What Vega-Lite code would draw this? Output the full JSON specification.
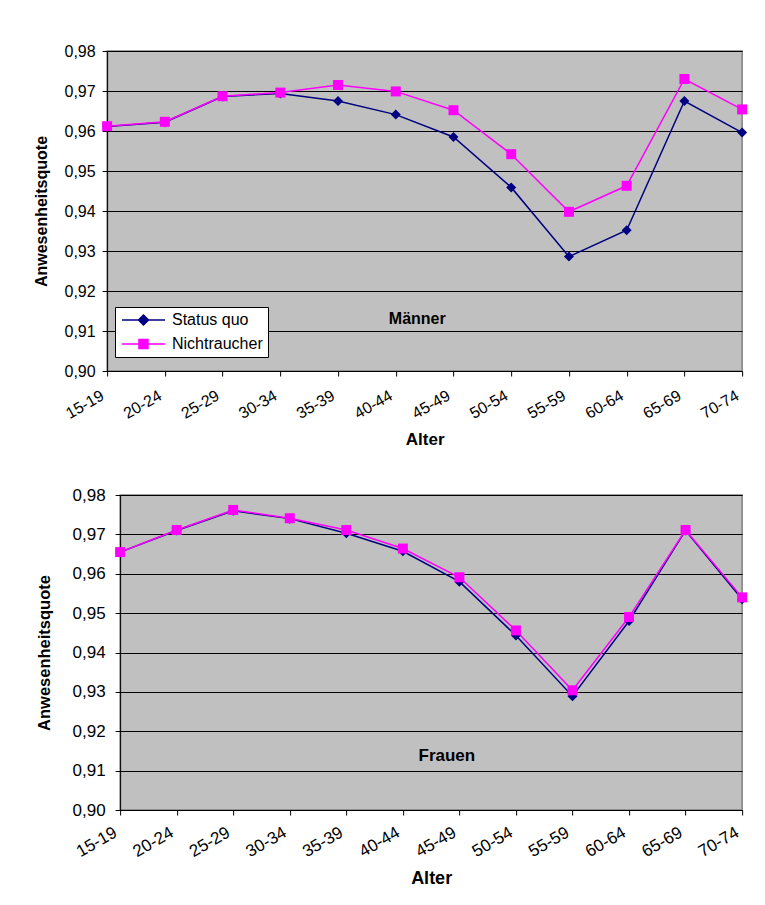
{
  "$schema": "https://vega.github.io/schema/vega-lite/v6.json",
  "background": "white",
  "padding": {"left": 33, "top": 42, "right": 5, "bottom": 5},
  "center": true,
  "spacing": 36,
  "config": {
    "font": "Liberation Sans",
    "view": {"fill": "#C0C0C0", "stroke": "#808080", "strokeWidth": 1.5},
    "axis": {"labelColor": "black", "titleColor": "black", "labelFont": "Liberation Sans", "titleFont": "Liberation Sans"},
    "legend": {"labelFont": "Liberation Sans", "labelColor": "black"}
  },
  "datasets": {
    "maenner": [
      {"alter": "15-19", "reihe": "Status quo", "wert": 0.9611},
      {"alter": "20-24", "reihe": "Status quo", "wert": 0.9622},
      {"alter": "25-29", "reihe": "Status quo", "wert": 0.9686},
      {"alter": "30-34", "reihe": "Status quo", "wert": 0.9694},
      {"alter": "35-39", "reihe": "Status quo", "wert": 0.9675},
      {"alter": "40-44", "reihe": "Status quo", "wert": 0.9641},
      {"alter": "45-49", "reihe": "Status quo", "wert": 0.9585},
      {"alter": "50-54", "reihe": "Status quo", "wert": 0.9459},
      {"alter": "55-59", "reihe": "Status quo", "wert": 0.9286},
      {"alter": "60-64", "reihe": "Status quo", "wert": 0.9352},
      {"alter": "65-69", "reihe": "Status quo", "wert": 0.9675},
      {"alter": "70-74", "reihe": "Status quo", "wert": 0.9596},
      {"alter": "15-19", "reihe": "Nichtraucher", "wert": 0.9612},
      {"alter": "20-24", "reihe": "Nichtraucher", "wert": 0.9623},
      {"alter": "25-29", "reihe": "Nichtraucher", "wert": 0.9687},
      {"alter": "30-34", "reihe": "Nichtraucher", "wert": 0.9696},
      {"alter": "35-39", "reihe": "Nichtraucher", "wert": 0.9715},
      {"alter": "40-44", "reihe": "Nichtraucher", "wert": 0.9699},
      {"alter": "45-49", "reihe": "Nichtraucher", "wert": 0.9652},
      {"alter": "50-54", "reihe": "Nichtraucher", "wert": 0.9542},
      {"alter": "55-59", "reihe": "Nichtraucher", "wert": 0.9398},
      {"alter": "60-64", "reihe": "Nichtraucher", "wert": 0.9463},
      {"alter": "65-69", "reihe": "Nichtraucher", "wert": 0.9730},
      {"alter": "70-74", "reihe": "Nichtraucher", "wert": 0.9654}
    ],
    "frauen": [
      {"alter": "15-19", "reihe": "Status quo", "wert": 0.9655},
      {"alter": "20-24", "reihe": "Status quo", "wert": 0.9710},
      {"alter": "25-29", "reihe": "Status quo", "wert": 0.9760},
      {"alter": "30-34", "reihe": "Status quo", "wert": 0.9740},
      {"alter": "35-39", "reihe": "Status quo", "wert": 0.9703},
      {"alter": "40-44", "reihe": "Status quo", "wert": 0.9657},
      {"alter": "45-49", "reihe": "Status quo", "wert": 0.9580},
      {"alter": "50-54", "reihe": "Status quo", "wert": 0.9443},
      {"alter": "55-59", "reihe": "Status quo", "wert": 0.9289},
      {"alter": "60-64", "reihe": "Status quo", "wert": 0.9480},
      {"alter": "65-69", "reihe": "Status quo", "wert": 0.9710},
      {"alter": "70-74", "reihe": "Status quo", "wert": 0.9535},
      {"alter": "15-19", "reihe": "Nichtraucher", "wert": 0.9655},
      {"alter": "20-24", "reihe": "Nichtraucher", "wert": 0.9711},
      {"alter": "25-29", "reihe": "Nichtraucher", "wert": 0.9762},
      {"alter": "30-34", "reihe": "Nichtraucher", "wert": 0.9741},
      {"alter": "35-39", "reihe": "Nichtraucher", "wert": 0.9711},
      {"alter": "40-44", "reihe": "Nichtraucher", "wert": 0.9664},
      {"alter": "45-49", "reihe": "Nichtraucher", "wert": 0.9591},
      {"alter": "50-54", "reihe": "Nichtraucher", "wert": 0.9456},
      {"alter": "55-59", "reihe": "Nichtraucher", "wert": 0.9304},
      {"alter": "60-64", "reihe": "Nichtraucher", "wert": 0.9490},
      {"alter": "65-69", "reihe": "Nichtraucher", "wert": 0.9711},
      {"alter": "70-74", "reihe": "Nichtraucher", "wert": 0.9540}
    ]
  },
  "vconcat": [
    {
      "width": 635,
      "height": 320,
      "resolve": {"scale": {"y": "independent"}, "axis": {"y": "independent"}},
      "layer": [
        {
          "data": {"name": "maenner"},
          "mark": {"type": "line", "strokeWidth": 1.5},
          "encoding": {
            "x": {"field": "alter", "type": "ordinal", "scale": {"type": "point", "padding": 0, "domain": ["15-19","20-24","25-29","30-34","35-39","40-44","45-49","50-54","55-59","60-64","65-69","70-74"]},
              "axis": {"grid": false, "domainColor": "black", "tickColor": "black", "tickSize": 5, "labelAngle": -30, "labelAlign": "right", "labelBaseline": "middle", "labelPadding": 18, "labelOffset": -5, "labelFontSize": 16, "title": "Alter", "titleFontSize": 17, "titleFontWeight": "bold", "titlePadding": 10}},
            "y": {"field": "wert", "type": "quantitative", "scale": {"domain": [0.9, 0.98], "nice": false, "zero": false},
              "axis": {"values": [0.9,0.91,0.92,0.93,0.94,0.95,0.96,0.97,0.98], "tickCount": 20, "labelExpr": "replace(format(datum.value, '.2f'), '.', ',')", "grid": true, "gridColor": "black", "gridWidth": 1, "gridOpacity": 1, "domainColor": "black", "tickColor": "black", "tickSize": 5, "labelPadding": 7, "labelFontSize": 16, "labelOverlap": false, "title": "Anwesenheitsquote", "titleFontSize": 16, "titleFontWeight": "bold", "titlePadding": 14}},
            "color": {"field": "reihe", "type": "nominal", "scale": {"domain": ["Status quo", "Nichtraucher"], "range": ["#000080", "#FF00FF"]},
              "legend": {"orient": "none", "legendX": 8, "legendY": 256, "title": null, "fillColor": "white", "strokeColor": "black", "padding": 5, "labelFontSize": 16, "labelOffset": 36, "rowPadding": 8, "symbolSize": 144, "symbolStrokeWidth": 1.5,
                "encode": {"symbols": {"update": {
                  "shape": {"signal": "datum.value == 'Status quo' ? 'M-1,0H6.17M1.75,0L2.58,-0.83L3.42,0L2.58,0.83Z' : 'M-1,0H6.17M1.83,-0.75H3.33V0.75H1.83Z'"},
                  "fill": {"signal": "datum.value == 'Status quo' ? '#000080' : '#FF00FF'"},
                  "stroke": {"signal": "datum.value == 'Status quo' ? '#000080' : '#FF00FF'"},
                  "strokeWidth": {"value": 1.5},
                  "opacity": {"value": 1},
                  "fillOpacity": {"value": 1},
                  "strokeOpacity": {"value": 1}
                }}}}}
          }
        },
        {
          "data": {"name": "maenner"},
          "transform": [{"filter": "datum.reihe == 'Status quo'"}],
          "mark": {"type": "point", "filled": true, "opacity": 1, "size": 100, "shape": "diamond", "color": "#000080"},
          "encoding": {
            "x": {"field": "alter", "type": "ordinal"},
            "y": {"field": "wert", "type": "quantitative", "scale": {"domain": [0.9, 0.98], "nice": false, "zero": false}, "axis": null}
          }
        },
        {
          "data": {"name": "maenner"},
          "transform": [{"filter": "datum.reihe == 'Nichtraucher'"}],
          "mark": {"type": "point", "filled": true, "opacity": 1, "size": 100, "shape": "square", "color": "#FF00FF"},
          "encoding": {
            "x": {"field": "alter", "type": "ordinal"},
            "y": {"field": "wert", "type": "quantitative", "scale": {"domain": [0.9, 0.98], "nice": false, "zero": false}, "axis": null}
          }
        },
        {
          "data": {"values": [{}]},
          "mark": {"type": "text", "fontSize": 16, "fontWeight": "bold", "color": "black", "align": "center", "baseline": "middle", "dx": 21.5},
          "encoding": {
            "x": {"datum": "40-44"},
            "y": {"datum": 0.9131, "type": "quantitative", "scale": {"domain": [0.9, 0.98], "nice": false, "zero": false},
              "axis": {"orient": "right", "domain": false, "ticks": false, "labels": false, "grid": false, "title": ".", "titleFontSize": 2, "titleOpacity": 0, "titlePadding": 16}},
            "text": {"value": "Männer"}
          }
        }
      ]
    },
    {
      "width": 622,
      "height": 315,
      "layer": [
        {
          "data": {"name": "frauen"},
          "mark": {"type": "line", "strokeWidth": 1.5},
          "encoding": {
            "x": {"field": "alter", "type": "ordinal", "scale": {"type": "point", "padding": 0, "domain": ["15-19","20-24","25-29","30-34","35-39","40-44","45-49","50-54","55-59","60-64","65-69","70-74"]},
              "axis": {"grid": false, "domainColor": "black", "tickColor": "black", "tickSize": 5, "labelAngle": -30, "labelAlign": "right", "labelBaseline": "middle", "labelPadding": 16, "labelOffset": -5, "labelFontSize": 17, "title": "Alter", "titleFontSize": 18, "titleFontWeight": "bold", "titlePadding": 10}},
            "y": {"field": "wert", "type": "quantitative", "scale": {"domain": [0.9, 0.98], "nice": false, "zero": false},
              "axis": {"values": [0.9,0.91,0.92,0.93,0.94,0.95,0.96,0.97,0.98], "tickCount": 20, "labelExpr": "replace(format(datum.value, '.2f'), '.', ',')", "grid": true, "gridColor": "black", "gridWidth": 1, "gridOpacity": 1, "domainColor": "black", "tickColor": "black", "tickSize": 5, "labelPadding": 10, "labelFontSize": 17, "labelOverlap": false, "title": "Anwesenheitsquote", "titleFontSize": 16.5, "titleFontWeight": "bold", "titlePadding": 20}},
            "color": {"field": "reihe", "type": "nominal", "scale": {"domain": ["Status quo", "Nichtraucher"], "range": ["#000080", "#FF00FF"]},
              "legend": {"orient": "none", "legendX": 14, "legendY": 248, "title": null, "fillColor": "white", "strokeColor": "black", "padding": 6, "labelFontSize": 17.5, "labelOffset": 39, "rowPadding": 8, "symbolSize": 165, "symbolStrokeWidth": 1.5,
                "encode": {"symbols": {"update": {
                  "shape": {"signal": "datum.value == 'Status quo' ? 'M-1,0H6.17M1.75,0L2.58,-0.83L3.42,0L2.58,0.83Z' : 'M-1,0H6.17M1.83,-0.75H3.33V0.75H1.83Z'"},
                  "fill": {"signal": "datum.value == 'Status quo' ? '#000080' : '#FF00FF'"},
                  "stroke": {"signal": "datum.value == 'Status quo' ? '#000080' : '#FF00FF'"},
                  "strokeWidth": {"value": 1.5},
                  "opacity": {"value": 1},
                  "fillOpacity": {"value": 1},
                  "strokeOpacity": {"value": 1}
                }}}}}
          }
        },
        {
          "data": {"name": "frauen"},
          "transform": [{"filter": "datum.reihe == 'Status quo'"}],
          "mark": {"type": "point", "filled": true, "opacity": 1, "size": 100, "shape": "diamond", "color": "#000080"},
          "encoding": {
            "x": {"field": "alter", "type": "ordinal"},
            "y": {"field": "wert", "type": "quantitative"}
          }
        },
        {
          "data": {"name": "frauen"},
          "transform": [{"filter": "datum.reihe == 'Nichtraucher'"}],
          "mark": {"type": "point", "filled": true, "opacity": 1, "size": 100, "shape": "square", "color": "#FF00FF"},
          "encoding": {
            "x": {"field": "alter", "type": "ordinal"},
            "y": {"field": "wert", "type": "quantitative"}
          }
        },
        {
          "data": {"values": [{}]},
          "mark": {"type": "text", "fontSize": 17, "fontWeight": "bold", "color": "black", "align": "center", "baseline": "middle", "dx": 44},
          "encoding": {
            "x": {"datum": "40-44"},
            "y": {"datum": 0.9137},
            "text": {"value": "Frauen"}
          }
        }
      ]
    }
  ]
}
